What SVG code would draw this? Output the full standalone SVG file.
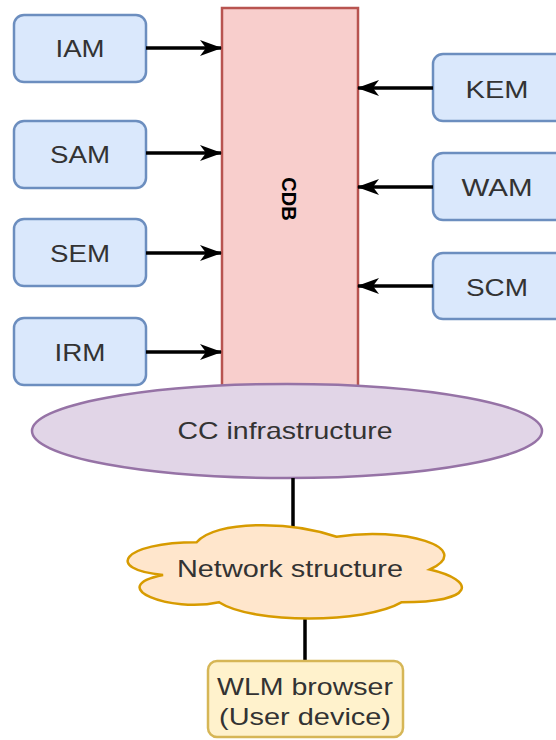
<svg xmlns="http://www.w3.org/2000/svg" width="556" height="740" viewBox="0 0 556 740">
<defs>
<marker id="arr" viewBox="0 0 22 18" refX="21" refY="9" markerWidth="22" markerHeight="18" markerUnits="userSpaceOnUse" orient="auto">
<path d="M0,1 L22,9 L0,17 L6,9 Z" fill="#000"/>
</marker>
</defs>
<style>
.blue{fill:#dae8fc;stroke:#6c8ebf;stroke-width:2.5}
.t{font-family:"Liberation Sans",Arial,sans-serif;font-size:24px;fill:#333;text-anchor:middle}
.c{stroke:#000;stroke-width:3.5;fill:none}
</style>
<rect width="556" height="740" fill="#fff"/>
<g id="CDB">
<rect x="222" y="8" width="136" height="400" fill="#f8cecc" stroke="#b85450" stroke-width="2.5"/>
<text transform="translate(282,199) rotate(90)" x="0" y="0" font-family="'Liberation Sans',Arial,sans-serif" font-weight="bold" font-size="20" fill="#000" text-anchor="middle">CDB</text>
</g>
<g id="IAM"><rect class="blue" x="14" y="15" width="132" height="67" rx="10"/><text class="t" x="80" y="57" textLength="49" lengthAdjust="spacingAndGlyphs">IAM</text></g>
<g id="SAM"><rect class="blue" x="14" y="121" width="132" height="67" rx="10"/><text class="t" x="80" y="163" textLength="60" lengthAdjust="spacingAndGlyphs">SAM</text></g>
<g id="SEM"><rect class="blue" x="14" y="219" width="132" height="67" rx="10"/><text class="t" x="80" y="262" textLength="60" lengthAdjust="spacingAndGlyphs">SEM</text></g>
<g id="IRM"><rect class="blue" x="14" y="318" width="132" height="67" rx="10"/><text class="t" x="80" y="361" textLength="51" lengthAdjust="spacingAndGlyphs">IRM</text></g>
<g id="KEM"><rect class="blue" x="433" y="54" width="140" height="67" rx="10"/><text class="t" x="497" y="98" textLength="63" lengthAdjust="spacingAndGlyphs">KEM</text></g>
<g id="WAM"><rect class="blue" x="433" y="153" width="140" height="67" rx="10"/><text class="t" x="497" y="196" textLength="71" lengthAdjust="spacingAndGlyphs">WAM</text></g>
<g id="SCM"><rect class="blue" x="433" y="253" width="140" height="66" rx="10"/><text class="t" x="497" y="296" textLength="62" lengthAdjust="spacingAndGlyphs">SCM</text></g>
<g id="CC">
<ellipse cx="287" cy="431" rx="255" ry="47" fill="#e1d5e7" stroke="#9673a6" stroke-width="2.5"/>
<text class="t" x="285" y="439" font-size="25" textLength="215" lengthAdjust="spacingAndGlyphs">CC infrastructure</text>
</g>
<g id="connectors">
<line class="c" x1="146" y1="48" x2="221" y2="48" marker-end="url(#arr)"/>
<line class="c" x1="146" y1="153" x2="221" y2="153" marker-end="url(#arr)"/>
<line class="c" x1="146" y1="253" x2="221" y2="253" marker-end="url(#arr)"/>
<line class="c" x1="146" y1="352" x2="221" y2="352" marker-end="url(#arr)"/>
<line class="c" x1="433" y1="88" x2="358" y2="88" marker-end="url(#arr)"/>
<line class="c" x1="433" y1="187" x2="358" y2="187" marker-end="url(#arr)"/>
<line class="c" x1="433" y1="286" x2="358" y2="286" marker-end="url(#arr)"/>
<line class="c" x1="293" y1="478" x2="293" y2="528"/>
<line class="c" x1="305" y1="616" x2="305" y2="661"/>
</g>
<g id="Network">
<path d="M 196.65,542.25 C 122.05,542.25 103.4,569.5 163.08,574.95 C 103.4,586.94 170.54,613.1 219.03,602.2 C 252.6,624 364.5,624 401.8,602.2 C 476.4,602.2 476.4,580.4 429.78,569.5 C 476.4,547.7 401.8,525.9 336.53,536.8 C 289.9,520.45 215.3,520.45 196.65,542.25 Z" fill="#ffe6cc" stroke="#d79b00" stroke-width="2.5"/>
<text class="t" x="290" y="577" textLength="226" lengthAdjust="spacingAndGlyphs">Network structure</text>
</g>
<g id="WLM">
<rect x="208" y="661" width="195" height="76" rx="9" fill="#fff2cc" stroke="#d6b656" stroke-width="2.5"/>
<text class="t" x="305" y="695" textLength="176" lengthAdjust="spacingAndGlyphs">WLM browser</text>
<text class="t" x="305" y="725" textLength="172" lengthAdjust="spacingAndGlyphs">(User device)</text>
</g>
</svg>
